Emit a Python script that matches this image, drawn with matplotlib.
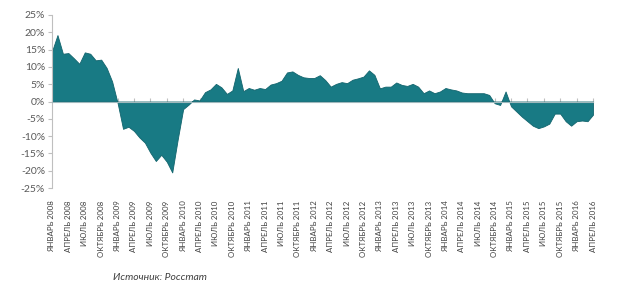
import matplotlib
matplotlib.use("Agg")
import matplotlib.pyplot as plt
import numpy as np

months_ru = ["ЯНВАРЬ", "АПРЕЛЬ", "ИЮЛЬ", "ОКТЯБРЬ"]
years = list(range(2008, 2017))
tick_labels = [f"{m} {y}" for y in years for m in months_ru][:34]

values = [
    14.5, 19.2, 13.8, 14.0, 12.5, 10.9, 14.2, 13.8, 11.9, 12.1, 9.7, 5.8,
    -0.4, -7.9, -7.3, -8.5, -10.4, -11.9, -14.8, -17.2, -15.4, -17.4, -20.5, -11.0,
    -2.2, -0.9, 0.6, 0.3, 2.7, 3.5, 5.1, 4.1, 2.2, 3.2, 9.7, 3.0,
    3.9, 3.4, 3.9, 3.6, 4.9, 5.3, 6.0, 8.4, 8.7, 7.7, 7.0, 6.8,
    6.8, 7.6, 6.2, 4.3, 5.1, 5.6, 5.3, 6.3, 6.7, 7.2, 9.0, 7.7,
    3.8, 4.3, 4.3, 5.5, 4.8, 4.5, 5.1, 4.3, 2.4, 3.2, 2.4, 2.9,
    3.9, 3.5, 3.2, 2.6, 2.4, 2.4, 2.4, 2.4, 1.9, -0.5, -1.0, 2.9,
    -1.4, -2.9, -4.4, -5.7, -7.0, -7.7, -7.2, -6.4, -3.5, -3.5, -5.7, -7.0,
    -5.7, -5.5, -5.7, -3.8,
]
yticks = [-25, -20, -15, -10, -5, 0, 5, 10, 15, 20, 25]
source_text = "Источник: Росстат"

plt.rcParams['font.family'] = ['Lato', 'DejaVu Sans']

fig = plt.figure(figsize=(6.24, 3.07), dpi=100)
ax = fig.add_axes([52/624, 1-188/307, (593-52)/624, (188-15)/307])

x = np.arange(len(values))
v = np.array(values)
ax.fill_between(x, v, 0, color="#187a84", edgecolor="#12646d", linewidth=0.6, zorder=2)

ax.set_xlim(0, len(values)-1)
ax.set_ylim(-25, 25)
ax.set_yticks(yticks)
ax.set_yticklabels([f"{t}%" for t in yticks])
ax.tick_params(axis='y', direction='out', length=3, color="#bfbfbf", pad=2,
               labelsize=7.5, labelcolor="#595959")

ax.set_xticks(x[::3])
ax.set_xticklabels(tick_labels)
ax.tick_params(axis='x', top=True, bottom=False, labelbottom=True, labeltop=False,
               direction='out', length=3, color="#bfbfbf", pad=6,
               labelrotation=90, labelsize=5.7, labelcolor="#404040")

for s in ['right', 'bottom']:
    ax.spines[s].set_visible(False)
ax.spines['top'].set_position(('data', 0))
ax.spines['top'].set_color("#9fb8bc")
ax.spines['top'].set_zorder(3)
ax.spines['left'].set_color("#bfbfbf")

fig.text(160/624, 1-278/307, source_text, fontsize=7.5, style='italic',
         color="#404040", ha='center', va='center')

fig.savefig("out.png", dpi=100)
